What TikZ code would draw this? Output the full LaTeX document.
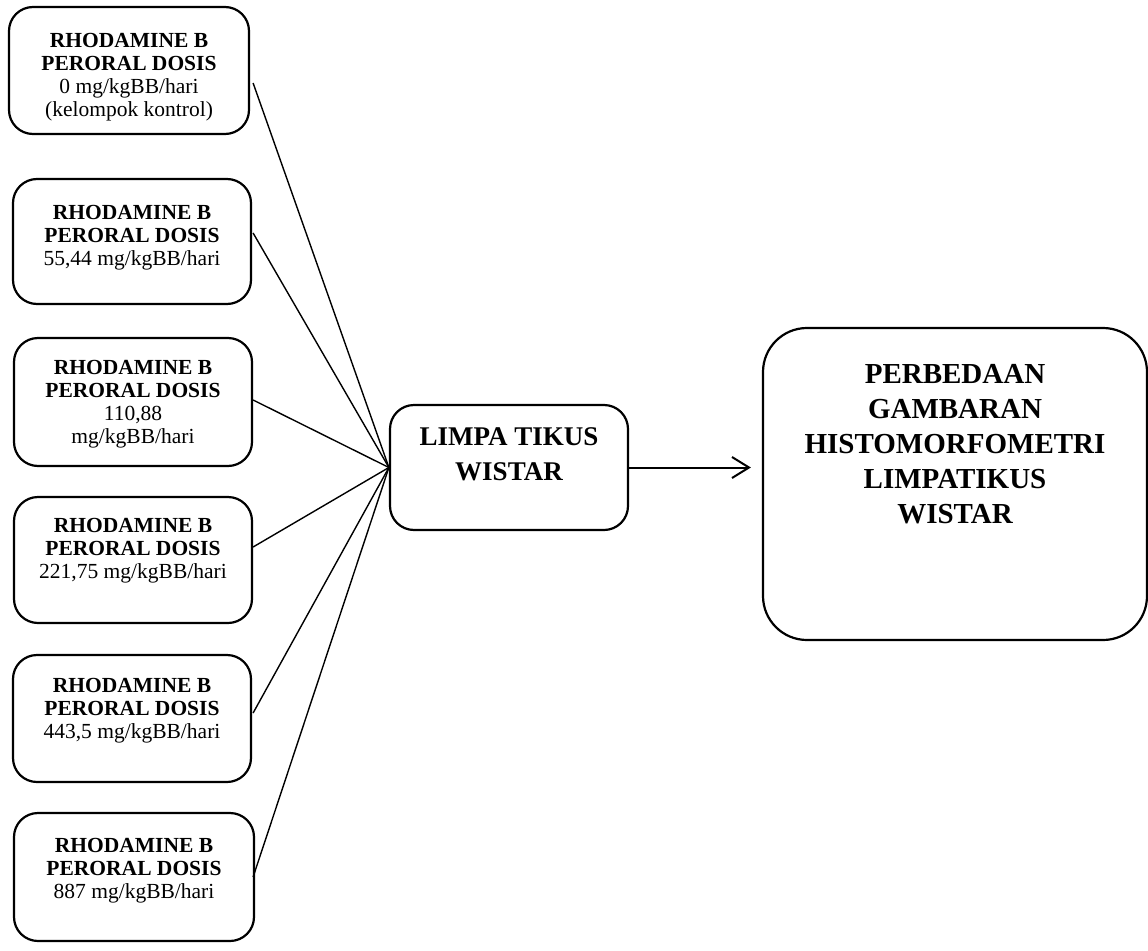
\documentclass[tikz,border=0pt]{standalone}
\usepackage{fontspec}
\setmainfont{Liberation Serif}
\usetikzlibrary{arrows.meta}
\begin{document}
\begin{tikzpicture}[x=1pt,y=-1pt,
  dosebox/.style={draw,line width=2.2pt,rounded corners=24pt,inner sep=0pt},
  dosetext/.style={anchor=north,align=center,inner sep=0pt,font=\fontsize{21.5}{23}\selectfont},
  bigtext/.style={anchor=north,align=center,inner sep=0pt,font=\fontsize{27}{35}\selectfont\bfseries},
  link/.style={line width=1.4pt},
  arrowline/.style={line width=2pt,-{Straight Barb[length=17pt,width=21pt,line width=2pt]}}]
\useasboundingbox (0,0) rectangle (1148,950);

% left dose boxes
\node[dosebox,minimum width=240pt,minimum height=127pt] (b1) at (129,70.5) {};
\node[dosebox,minimum width=238pt,minimum height=125pt] (b2) at (132,241.5) {};
\node[dosebox,minimum width=238pt,minimum height=128pt] (b3) at (133,402) {};
\node[dosebox,minimum width=238pt,minimum height=126pt] (b4) at (133,560) {};
\node[dosebox,minimum width=238pt,minimum height=127pt] (b5) at (132,718.5) {};
\node[dosebox,minimum width=240pt,minimum height=128pt] (b6) at (134,877) {};

\node[dosetext] (t1) at (129,33.5) {\textbf{RHODAMINE B}\\\textbf{PERORAL DOSIS}\\0 mg/kgBB/hari\\(kelompok kontrol)};
\node[dosetext] (t2) at (132,205.5) {\textbf{RHODAMINE B}\\\textbf{PERORAL DOSIS}\\55,44 mg/kgBB/hari};
\node[dosetext] (t3) at (133,360.5) {\textbf{RHODAMINE B}\\\textbf{PERORAL DOSIS}\\110,88\\mg/kgBB/hari};
\node[dosetext] (t4) at (133,518.5) {\textbf{RHODAMINE B}\\\textbf{PERORAL DOSIS}\\221,75 mg/kgBB/hari};
\node[dosetext] (t5) at (132,678.5) {\textbf{RHODAMINE B}\\\textbf{PERORAL DOSIS}\\443,5 mg/kgBB/hari};
\node[dosetext] (t6) at (134,838.5) {\textbf{RHODAMINE B}\\\textbf{PERORAL DOSIS}\\887 mg/kgBB/hari};

% middle box
\node[dosebox,minimum width=238pt,minimum height=125pt] (mid) at (509,467.5) {};
\node[bigtext] (midt) at (509,427) {LIMPA TIKUS\\WISTAR};

% right box
\node[dosebox,rounded corners=44pt,minimum width=384pt,minimum height=312pt] (res) at (955,484) {};
\node[bigtext,font=\fontsize{29}{35}\selectfont\bfseries] (rest) at (955,364) {PERBEDAAN\\GAMBARAN\\HISTOMORFOMETRI\\LIMPATIKUS\\WISTAR};

% connectors
\draw[link] ([xshift=3pt,yshift=-12.5pt]b1.east) -- (mid.west);
\draw[link] ([xshift=1pt,yshift=8.5pt]b2.east) -- (mid.west);
\draw[link] ([yshift=2pt]b3.east) -- (mid.west);
\draw[link] ([yshift=13pt]b4.east) -- (mid.west);
\draw[link] ([xshift=1pt,yshift=5.5pt]b5.east) -- (mid.west);
\draw[link] ([xshift=-2pt]b6.east) -- (mid.west);

\draw[arrowline,shorten >=11pt] (mid.east) -- (mid.east -| res.west);
\end{tikzpicture}
\end{document}
